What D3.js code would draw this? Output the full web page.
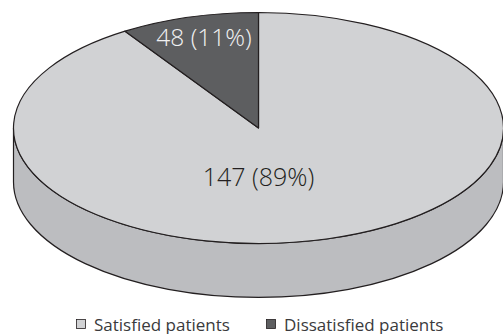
<!DOCTYPE html>
<html>
<head>
<meta charset="utf-8">
<script src="https://cdn.jsdelivr.net/npm/d3@7/dist/d3.min.js"></script>
<style>
  html, body { margin: 0; padding: 0; background: #fff; }
  text { font-family: "Open Sans", sans-serif; }
</style>
</head>
<body>
<svg id="chart" width="503" height="334"></svg>
<script>
// Patient satisfaction shares, with the labels printed on each slice
const categories = ["Satisfied patients", "Dissatisfied patients"];
const shares = [89, 11];
const sliceLabels = ["147 (89%)", "48 (11%)"];
const topColors = ["#d1d2d4", "#5d5e60"];
const edgeColor = "#231f20";
const sideColor = "#bcbdc0";

const width = 503, height = 334;
const svg = d3.select("#chart");

// Disc geometry: unit-circle coordinates mapped onto the tilted ellipse
const x = d3.scaleLinear().domain([-1, 1]).range([13.5, 503.5]);
const y = d3.scaleLinear().domain([-1, 1]).range([12.5, 243.5]);
const depth = 54;
const rx = (x(1) - x(-1)) / 2, ry = (y(1) - y(-1)) / 2;

// Perspective tilt: the rear of the disc is foreshortened, so angles measured
// from the far rim are compressed on the way to the screen
const foreshorten = 0.823;
function project(theta) {
  const a = Math.atan2(Math.sin(theta / 2), Math.cos(theta / 2));
  const half = Math.abs(Math.cos(a)) < 1e-9 ? a : Math.atan(foreshorten * Math.tan(a));
  const unwrapped = half < 0 && a > 0 ? half + Math.PI : half > 0 && a < 0 ? half - Math.PI : half;
  return 2 * unwrapped;
}
const px = t => x(Math.sin(t));
const py = t => y(-Math.cos(t));

const pie = d3.pie().sort(null).value(d => d);
const arcs = pie(shares);

// Extruded side wall: lower half of the rim, dropped by the disc depth
svg.append("path")
  .attr("d", `M${x(-1)},${y(0)} A${rx},${ry} 0 0 0 ${x(1)},${y(0)}
              L${x(1)},${y(0) + depth} A${rx},${ry} 0 0 1 ${x(-1)},${y(0) + depth} Z`)
  .attr("fill", sideColor)
  .attr("stroke", edgeColor)
  .attr("stroke-width", 1.2);

// Top face slices
svg.selectAll("path.slice")
  .data(arcs)
  .join("path")
  .attr("class", "slice")
  .attr("d", d => {
    const t0 = project(d.startAngle), t1 = project(d.endAngle);
    const large = d.endAngle - d.startAngle > Math.PI ? 1 : 0;
    return `M${x(0)},${y(0)} L${px(t0)},${py(t0)}
            A${rx},${ry} 0 ${large} 1 ${px(t1)},${py(t1)} Z`;
  })
  .attr("fill", (d, i) => topColors[i])
  .attr("stroke", edgeColor)
  .attr("stroke-width", 1.2)
  .attr("stroke-linejoin", "round");

// Slice labels
const labelPos = [[258.5, 186], [204, 46]];
svg.selectAll("text.slice-label")
  .data(sliceLabels)
  .join("text")
  .attr("class", "slice-label")
  .attr("x", (d, i) => labelPos[i][0])
  .attr("y", (d, i) => labelPos[i][1])
  .attr("text-anchor", "middle")
  .attr("font-size", (d, i) => i === 0 ? 25 : 24.5)
  .attr("font-weight", 300)
  .attr("fill", (d, i) => i === 0 ? "#231f20" : "#f1f1f2")
  .text(d => d);

// Legend along the bottom edge
const legendX = [76.5, 266.5];
const legend = svg.selectAll("g.legend")
  .data(categories)
  .join("g")
  .attr("class", "legend")
  .attr("transform", (d, i) => `translate(${legendX[i]},319.5)`);
legend.append("rect")
  .attr("width", 9).attr("height", 9)
  .attr("fill", (d, i) => topColors[i])
  .attr("stroke", edgeColor)
  .attr("stroke-width", 0.8);
legend.append("text")
  .attr("x", 17.5).attr("y", 11)
  .attr("font-size", 17)
  .attr("fill", "#3a3a3c")
  .text(d => d);
</script>
</body>
</html>
